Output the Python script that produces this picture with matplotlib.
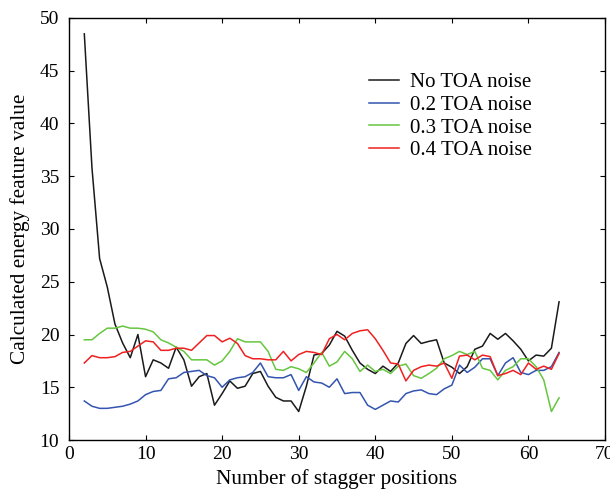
import matplotlib
matplotlib.use("Agg")
import matplotlib.pyplot as plt
import numpy as np

# stagger positions 2..64
positions = np.arange(2, 65)

no_noise = [48.5, 35.8, 27.2, 24.5, 21.0, 19.2, 17.8, 20.0, 16.0, 17.6,
            17.3, 16.8, 18.8, 17.6, 15.1, 16.0, 16.3, 13.3, 14.4, 15.6,
            14.9, 15.1, 16.3, 16.5, 15.1, 14.05, 13.7, 13.7, 12.7, 15.1,
            18.05, 18.2, 19.0, 20.3, 19.85, 18.5, 17.3, 16.7, 16.3, 17.0,
            16.5, 17.3, 19.15, 19.9, 19.15, 19.35, 19.5, 17.3, 16.9, 16.3,
            16.95, 18.6, 18.9, 20.1, 19.55, 20.1, 19.4, 18.6, 17.5, 18.05,
            17.95, 18.7, 23.1]

noise_02 = [13.7, 13.2, 13.0, 13.0, 13.1, 13.2, 13.4, 13.7, 14.3, 14.6,
            14.7, 15.8, 15.9, 16.4, 16.5, 16.6, 16.1, 15.9, 15.0, 15.7,
            15.9, 16.0, 16.4, 17.3, 16.0, 15.9, 15.9, 16.2, 14.7, 16.0,
            15.5, 15.4, 15.0, 15.8, 14.4, 14.5, 14.5, 13.3, 12.9, 13.3,
            13.7, 13.6, 14.4, 14.65, 14.75, 14.4, 14.3, 14.85, 15.2, 17.1,
            16.4, 16.9, 17.7, 17.7, 16.1, 17.3, 17.8, 16.4, 16.2, 16.6,
            16.6, 16.95, 18.3]

noise_03 = [19.5, 19.5, 20.1, 20.6, 20.6, 20.8, 20.6, 20.6, 20.5, 20.25,
            19.5, 19.2, 18.8, 18.4, 17.6, 17.6, 17.6, 17.1, 17.5, 18.4,
            19.6, 19.3, 19.3, 19.3, 18.4, 16.7, 16.6, 16.95, 16.75, 16.4,
            17.3, 18.3, 17.0, 17.4, 18.4, 17.7, 16.5, 17.1, 16.5, 16.7,
            16.3, 17.0, 17.2, 16.1, 15.85, 16.3, 16.8, 17.7, 18.0, 18.4,
            18.1, 18.4, 16.8, 16.6, 15.7, 16.6, 16.95, 17.7, 17.7, 16.95,
            15.7, 12.7, 14.0]

noise_04 = [17.3, 18.0, 17.8, 17.8, 17.9, 18.3, 18.4, 18.9, 19.4, 19.3,
            18.5, 18.5, 18.7, 18.7, 18.5, 19.2, 19.9, 19.9, 19.3, 19.65,
            19.15, 18.0, 17.7, 17.7, 17.6, 17.6, 18.4, 17.5, 18.1, 18.4,
            18.3, 18.1, 19.6, 20.0, 19.5, 20.1, 20.35, 20.45, 19.6, 18.5,
            17.3, 17.2, 15.6, 16.6, 16.95, 17.1, 17.0, 17.3, 15.85, 17.95,
            18.05, 17.6, 18.05, 17.9, 16.1, 16.3, 16.6, 16.2, 17.3, 16.7,
            17.0, 16.7, 18.2]

labels = ["No TOA noise", "0.2 TOA noise", "0.3 TOA noise", "0.4 TOA noise"]
colors = ["#1a1a1a", "#3355b0", "#66c640", "#f02020"]

plt.rcParams["font.family"] = ["Liberation Serif", "DejaVu Serif"]

fig = plt.figure(figsize=(6.1, 4.93), dpi=100)
ax = fig.add_axes([0.1131, 0.1075, 0.8787, 0.856])

for series, lab, col in zip([no_noise, noise_02, noise_03, noise_04], labels, colors):
    ax.plot(positions, series, color=col, linewidth=1.1, label=lab)

ax.set_xlim(0, 70)
ax.set_ylim(10, 50)
ax.set_xticks(np.arange(0, 71, 10))
ax.set_yticks(np.arange(10, 51, 5))
ax.tick_params(direction="in", top=True, right=True, length=3.5, labelsize=14)
ax.tick_params(axis="x", pad=4.5)
ax.tick_params(axis="y", pad=7)
for sp in ax.spines.values():
    sp.set_linewidth(1.0)

ax.set_xlabel("Number of stagger positions", fontsize=15.3, labelpad=4)
ax.set_ylabel("Calculated energy feature value", fontsize=15.3, labelpad=7)

ax.legend(loc="upper left", bbox_to_anchor=(0.525, 0.915), frameon=False,
          fontsize=15, handlelength=1.45, labelspacing=0.15, handletextpad=0.5)

fig.savefig("out.png", dpi=100)
